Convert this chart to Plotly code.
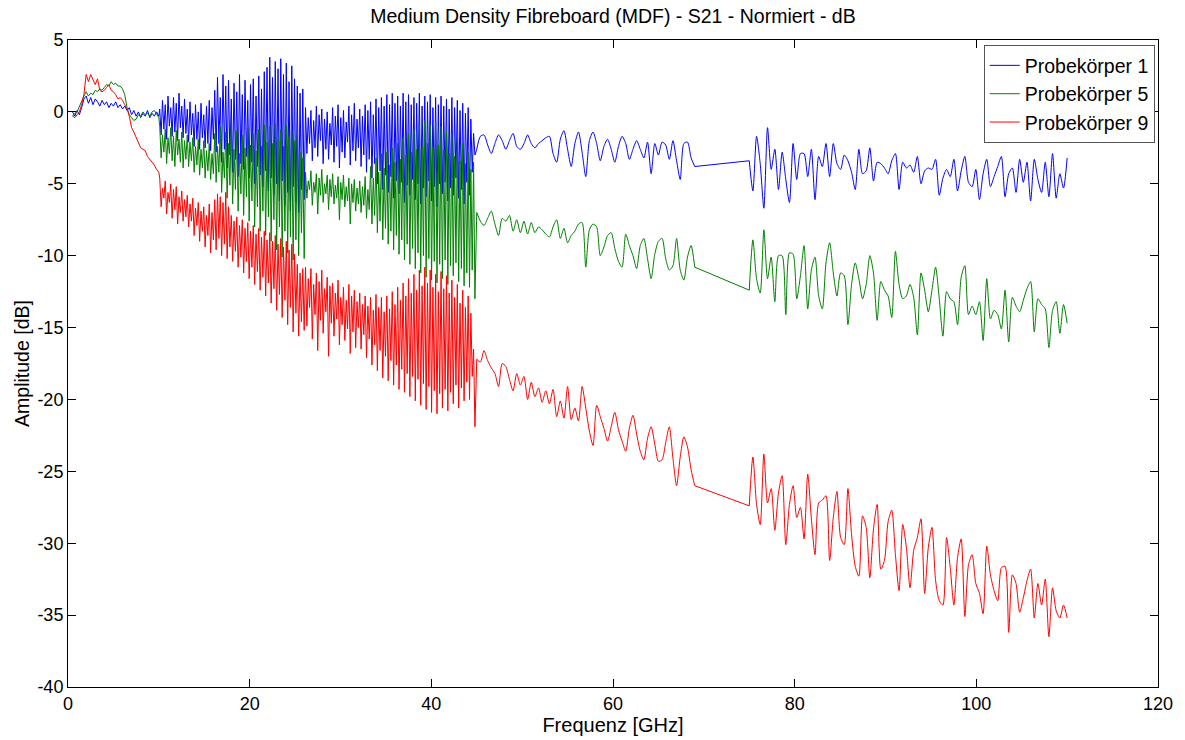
import numpy as np
import plotly.graph_objects as go

# Frequency bands of the sweep [GHz]: start / stop of each measured block
BAND_START = [0.5, 10.1, 26.15, 45.0, 75.0]
BAND_STOP = [10.0, 26.0, 44.8, 69.0, 110.0]

# ---------------- Probekörper 1 ----------------
p1_band1 = [0.0, -0.3, 0.1, -0.2, 0.3, 0.9, 1.1, 0.6, 1.0, 0.5, 0.9, 0.7, 0.4, 0.8, 0.5, 0.7,
            0.3, 0.6, 0.4, 0.7, 0.3, 0.5, 0.2, 0.4, 0.1, 0.3, -0.2, 0.1, -0.3, 0.0, -0.4, -0.1,
            -0.3, 0.1, -0.4, -0.1, -0.3, 0.0, -0.3]
p1_band2 = [0.2, -1.6, 0.8, -1.2, 0.5, -1.9, 1.1, -1.0, 0.3, -1.7, 1.0, -1.4, 0.6, -2.0, 1.3, -1.1, 0.4, -1.8, 0.9, -1.5,
            0.2, -2.1, 0.7, -1.6, -0.1, -2.4, 0.5, -1.9, 0.0, -2.6, 0.6, -1.8, -0.2, -2.5, 0.4, -2.2, 0.8, -2.7, 0.3, -1.9,
            1.5, -2.8, 2.4, -2.2, 1.0, -3.5, 2.6, -2.6, 1.8, -3.9, 2.2, -3.0, 0.9, -4.2, 2.0, -3.3, 1.4, -4.5, 2.6, -3.6,
            1.2, -4.0, 2.2, -3.1, 0.8, -4.6, 1.9, -3.5, 2.3, -5.0, 1.1, -3.8, 2.5, -4.4, 1.6, -5.2, 2.8, -4.1, 3.1, -5.5,
            3.8, -4.6, 2.4, -5.8, 3.5, -5.0, 3.0, -6.2, 3.7, -4.8, 2.6, -6.5, 3.4, -5.6, 2.1, -6.9, 3.2, -5.2, 2.3, -6.3,
            1.8, -7.0, 1.3, -5.4, 1.6, -6.1]
p1_band3 = [0.3, -2.9, -0.4, -2.2, 0.1, -3.4, -0.6, -2.5, 0.4, -3.1, -0.2, -2.0, 0.2, -3.6, -0.5, -2.6, 0.0, -3.3, -0.8, -2.3,
            0.3, -3.5, -0.3, -2.4, 0.5, -3.9, -0.4, -2.8, 0.1, -3.2, -0.7, -2.1, 0.4, -3.7, -0.2, -2.7, 0.6, -3.4, -0.5, -2.5,
            0.2, -3.8, -0.3, -3.0, 0.5, -4.2, 0.1, -3.3, 0.7, -4.6, -0.2, -3.6, 0.9, -5.0, 0.3, -4.1, 1.0, -5.4, 0.4, -4.4,
            1.2, -5.6, 0.5, -4.5, 1.3, -6.0, 0.6, -4.8, 1.1, -5.7, 0.4, -4.9, 1.3, -6.3, 0.7, -5.1, 1.2, -5.8, 0.5, -4.7,
            1.0, -6.1, 0.6, -5.0, 1.3, -6.4, 0.4, -5.3, 1.1, -5.9, 0.7, -4.8, 1.2, -6.2, 0.3, -5.2, 1.0, -6.6, 0.5, -5.0,
            1.1, -5.7, 0.4, -4.9, 0.9, -6.2, 0.2, -5.3, 1.0, -5.8, 0.3, -4.6, 0.8, -6.0, 0.1, -5.4, 0.6, -6.4, -0.1, -4.9,
            0.3, -5.8, -0.5, -4.2, -1.5, -3.0]
p1_band4 = [-2.6, -1.7, -1.6, -2.3, -2.9, -2.2, -1.6, -2.0, -2.6, -2.0, -1.5, -2.4, -2.6, -2.2, -1.6, -2.2,
            -2.5, -2.2, -2.0, -1.8, -1.7, -2.9, -3.5, -1.9, -1.3, -2.6, -3.8, -2.2, -1.4, -2.8, -4.5, -2.0,
            -1.4, -2.2, -3.4, -2.4, -1.9, -2.6, -3.5, -2.4, -1.7, -2.2, -3.3, -2.6, -2.0, -2.6, -3.2, -2.1,
            -4.3, -2.2, -3.0, -2.1, -2.3, -3.3, -2.0, -3.4, -4.7, -2.2, -2.1, -3.2, -3.8]
p1_band5 = [-3.4, -5.5, -1.7, -3.6, -6.7, -1.1, -4.0, -2.6, -5.4, -2.8, -4.7, -6.3, -2.2, -4.7, -2.9, -2.9,
            -4.5, -2.6, -6.1, -3.1, -3.8, -2.2, -4.5, -2.2, -3.6, -4.0, -3.0, -3.4, -4.2, -5.4, -2.6, -4.3,
            -4.1, -2.5, -4.8, -3.5, -3.6, -3.9, -4.3, -3.4, -2.9, -5.4, -3.5, -3.9, -3.7, -4.2, -3.1, -5.0,
            -4.1, -3.9, -4.0, -3.3, -5.8, -4.6, -4.0, -4.5, -3.3, -5.5, -4.1, -3.1, -4.9, -5.2, -4.0, -6.1,
            -4.3, -3.3, -5.2, -4.5, -3.8, -3.1, -5.9, -4.3, -3.9, -5.6, -3.3, -4.9, -3.5, -6.2, -3.3, -4.7,
            -5.6, -3.5, -5.9, -2.9, -6.0, -4.3, -5.3, -3.2]

# ---------------- Probekörper 5 ----------------
p5_band1 = [-0.3, -0.1, 0.0, 0.4, 0.8, 1.1, 1.4, 1.1, 1.3, 1.2, 1.5, 1.4, 1.6, 1.5, 1.7, 1.9,
            1.8, 2.1, 1.9, 2.0, 1.8, 1.8, 1.6, 1.2, 0.3, -0.2, -0.4, -0.6, -0.5, -0.2, -0.3, 0.0,
            -0.2, -0.1, -0.3, 0.0, 0.1, -0.2, -0.4]
p5_band2 = [-1.0, -3.2, -1.6, -2.8, -1.2, -3.6, -1.8, -2.9, -1.1, -3.4, -1.7, -3.8, -1.3, -3.0, -1.9, -3.5, -1.4, -3.9, -2.0, -3.3,
            -1.6, -3.8, -2.1, -3.4, -1.8, -4.2, -2.4, -3.7, -1.9, -4.4, -2.6, -3.9, -2.0, -4.6, -2.7, -4.1, -2.2, -4.7, -2.9, -4.3,
            -1.5, -4.9, -2.4, -4.2, -1.0, -5.6, -2.8, -4.6, -1.4, -6.0, -2.2, -5.1, -0.9, -6.4, -2.6, -5.4, -1.3, -6.9, -2.9, -5.7,
            -1.6, -7.2, -2.5, -5.9, -1.1, -7.6, -2.3, -6.2, -1.5, -8.0, -2.7, -6.6, -1.2, -8.3, -2.4, -6.9, -0.9, -8.6, -2.1, -7.3,
            -1.0, -9.0, -2.2, -7.5, -0.8, -9.6, -1.9, -8.0, -1.2, -10.1, -2.4, -8.3, -0.9, -9.8, -1.7, -8.7, -1.3, -10.3, -2.0, -8.9,
            -1.6, -10.0, -2.8, -8.4, -3.2, -10.2]
p5_band3 = [-4.2, -6.0, -4.8, -5.4, -4.1, -6.5, -4.9, -5.6, -4.3, -7.1, -4.6, -5.8, -4.0, -6.3, -5.0, -5.7, -4.4, -6.8, -4.7, -5.9,
            -4.3, -6.4, -5.1, -6.0, -4.5, -7.5, -4.9, -6.1, -4.4, -6.6, -5.2, -6.2, -4.6, -7.8, -5.0, -6.3, -4.7, -6.9, -5.3, -6.4,
            -4.8, -7.0, -5.2, -6.5, -4.5, -7.4, -5.4, -6.8, -3.8, -7.8, -4.6, -7.2, -3.2, -8.4, -4.2, -7.6, -2.9, -8.9, -3.9, -8.1,
            -2.8, -9.2, -3.7, -8.3, -2.5, -9.6, -3.5, -8.6, -2.2, -9.9, -3.3, -8.9, -1.8, -10.3, -3.0, -9.2, -1.5, -10.6, -2.8, -9.5,
            -1.2, -10.9, -2.6, -9.8, -0.9, -11.2, -2.4, -10.0, -0.6, -11.5, -2.2, -10.2, -0.9, -11.7, -2.5, -10.4, -0.7, -11.9, -2.3, -10.6,
            -1.0, -11.6, -2.6, -10.3, -1.3, -12.0, -2.9, -10.7, -1.6, -11.4, -3.1, -10.5, -1.9, -11.8, -3.4, -10.9, -2.2, -12.1, -3.6, -11.2,
            -2.8, -12.2, -4.0, -11.0, -3.5, -13.0]
p5_band4 = [-7.0, -7.6, -7.9, -7.4, -6.9, -7.8, -8.6, -7.4, -7.6, -7.2, -8.3, -7.5, -8.4, -7.6, -8.5, -7.7,
            -8.4, -8.0, -8.2, -8.5, -8.7, -8.0, -7.5, -8.8, -8.1, -9.1, -8.6, -8.3, -7.8, -7.7, -10.8, -8.2,
            -7.8, -8.0, -10.0, -9.4, -8.6, -8.4, -9.5, -10.4, -10.8, -8.5, -9.3, -10.0, -10.9, -9.3, -8.8, -10.2,
            -11.6, -9.9, -9.0, -8.8, -10.2, -11.0, -10.7, -8.8, -11.0, -11.7, -10.1, -9.3, -10.8]
p5_band5 = [-12.4, -8.9, -11.6, -12.6, -8.2, -11.6, -10.1, -13.2, -10.0, -10.0, -14.1, -9.8, -9.9, -13.0, -11.4, -9.3,
            -13.7, -11.0, -10.1, -12.8, -13.7, -10.5, -9.1, -11.2, -12.8, -11.2, -11.4, -14.8, -12.0, -10.5, -11.6, -13.0,
            -12.0, -10.0, -11.2, -14.5, -11.8, -12.4, -12.8, -14.3, -9.7, -12.0, -13.0, -12.8, -12.0, -12.9, -15.5, -11.2,
            -12.4, -13.9, -12.4, -10.8, -13.0, -15.6, -12.5, -13.0, -13.2, -14.8, -11.5, -10.7, -14.1, -13.5, -14.1, -13.2,
            -15.9, -11.6, -14.4, -13.8, -14.1, -15.1, -12.4, -16.0, -12.9, -13.5, -13.9, -13.1, -12.3, -11.8, -15.3, -13.0,
            -13.4, -13.7, -16.4, -13.8, -13.2, -15.4, -13.4, -14.7]

# ---------------- Probekörper 9 ----------------
p9_band1 = [-0.3, -0.4, -0.2, 0.0, 0.5, 1.2, 2.6, 2.1, 2.6, 2.2, 1.9, 2.3, 1.5, 1.4, 1.5, 1.7,
            1.9, 1.5, 1.4, 1.2, 0.9, 1.0, 0.8, 0.5, 0.2, -0.3, -1.1, -1.4, -1.8, -2.2, -2.5, -2.6,
            -2.7, -3.1, -3.3, -3.5, -3.7, -4.0, -4.2]
p9_band2 = [-4.6, -6.6, -5.3, -6.0, -4.8, -7.1, -5.6, -6.3, -5.0, -7.4, -5.4, -6.8, -5.2, -7.8, -5.9, -7.0, -5.5, -7.6, -6.1, -7.3,
            -5.8, -8.0, -6.4, -7.6, -6.0, -8.6, -6.7, -7.9, -6.3, -9.0, -6.9, -8.3, -6.6, -9.4, -7.2, -8.6, -6.4, -9.8, -7.0, -8.9,
            -6.1, -9.6, -5.7, -8.8, -5.9, -10.0, -6.3, -9.2, -5.6, -10.2, -6.6, -9.4, -7.2, -10.4, -7.6, -9.7, -7.3, -10.8, -7.9, -10.1,
            -7.5, -11.2, -8.1, -10.4, -7.7, -11.6, -8.3, -10.8, -7.9, -12.0, -8.5, -11.1, -8.1, -12.4, -8.7, -11.5, -8.3, -12.8, -8.9, -11.9,
            -8.4, -13.3, -9.0, -12.3, -8.6, -13.8, -9.2, -12.7, -8.8, -14.3, -9.4, -13.1, -9.0, -14.8, -9.6, -13.6, -9.2, -15.3, -9.9, -14.0,
            -10.6, -15.6, -11.2, -14.6, -10.9, -15.2]
p9_band3 = [-10.8, -14.9, -11.6, -13.6, -10.9, -15.8, -12.0, -14.1, -11.2, -16.6, -11.8, -14.5, -11.0, -15.4, -12.3, -13.9, -11.5, -17.0, -12.1, -14.7,
            -11.9, -15.6, -12.6, -14.4, -11.7, -16.2, -12.9, -14.8, -12.2, -15.9, -13.1, -15.1, -12.0, -16.8, -12.8, -15.3, -12.4, -16.4, -13.2, -15.0,
            -12.6, -16.5, -13.4, -15.5, -12.8, -17.1, -13.5, -15.8, -12.9, -17.6, -13.8, -16.2, -12.7, -18.0, -13.6, -16.6, -12.9, -18.5, -13.9, -17.0,
            -12.8, -18.7, -13.7, -17.3, -12.5, -19.0, -13.4, -17.6, -12.2, -19.3, -13.1, -17.9, -11.9, -19.5, -12.8, -18.2, -11.6, -19.8, -12.6, -18.4,
            -11.3, -20.1, -12.4, -18.6, -11.0, -20.4, -12.1, -18.9, -10.8, -20.7, -11.9, -19.1, -11.0, -20.9, -12.2, -19.4, -11.3, -21.0, -12.5, -19.6,
            -11.1, -20.6, -12.3, -19.3, -11.4, -20.8, -12.6, -19.5, -11.7, -20.3, -12.9, -19.0, -12.0, -20.6, -13.3, -19.2, -12.4, -20.1, -13.6, -18.8,
            -12.8, -20.0, -14.0, -18.4, -16.5, -21.9]
p9_band4 = [-17.2, -17.4, -16.6, -17.3, -17.8, -18.2, -19.1, -17.5, -17.7, -18.6, -19.4, -18.2, -19.0, -18.4, -20.0, -18.8,
            -19.8, -19.2, -20.2, -19.4, -20.3, -19.3, -21.2, -20.1, -21.3, -19.1, -21.4, -20.6, -21.5, -19.1, -20.6, -22.2,
            -23.2, -20.4, -21.2, -22.0, -22.9, -21.9, -20.9, -22.1, -22.9, -23.6, -22.0, -21.1, -22.4, -23.6, -24.2, -22.7,
            -21.9, -23.1, -24.3, -24.2, -23.0, -21.9, -24.1, -26.0, -24.0, -22.6, -23.3, -24.9, -26.0]
p9_band5 = [-27.4, -24.0, -27.3, -28.7, -23.8, -27.2, -26.2, -29.1, -26.5, -25.3, -30.1, -27.3, -26.0, -28.2, -27.5, -29.7,
            -25.2, -28.3, -30.8, -27.2, -27.0, -26.7, -31.2, -28.2, -26.4, -29.6, -30.1, -26.2, -29.4, -31.6, -32.3, -28.1,
            -28.9, -32.4, -29.0, -27.3, -31.8, -31.2, -28.5, -27.7, -30.8, -33.3, -28.7, -30.3, -33.1, -30.5, -29.6, -28.3,
            -33.5, -30.3, -28.9, -32.6, -34.0, -34.3, -29.6, -31.7, -34.3, -31.0, -29.7, -35.1, -31.5, -30.8, -32.8, -33.5,
            -34.9, -30.2, -32.2, -33.3, -34.0, -31.7, -31.6, -36.2, -32.2, -32.8, -34.8, -33.8, -32.6, -31.8, -35.2, -32.8,
            -34.3, -32.5, -36.5, -33.1, -34.7, -35.2, -34.3, -35.2]

SERIES_NAMES = ["Probekörper 1", "Probekörper 5", "Probekörper 9"]
SERIES_BANDS = [
    [p1_band1, p1_band2, p1_band3, p1_band4, p1_band5],
    [p5_band1, p5_band2, p5_band3, p5_band4, p5_band5],
    [p9_band1, p9_band2, p9_band3, p9_band4, p9_band5],
]
SERIES_COLORS = ["#0000ff", "#008000", "#ff0000"]

X_TICKS = [0, 20, 40, 60, 80, 100, 120]
Y_TICKS = [5, 0, -5, -10, -15, -20, -25, -30, -35, -40]

FONT = "Liberation Sans, Arial, Helvetica, sans-serif"


def band_axis(bands):
    """Frequency samples for each measured block, evenly spaced in the block."""
    freqs, vals = [], []
    for start, stop, values in zip(BAND_START, BAND_STOP, bands):
        freqs.append(np.linspace(start, stop, len(values)).tolist())
        vals.append(list(values))
    return freqs, vals


fig = go.Figure()
for name, bands, color in zip(SERIES_NAMES, SERIES_BANDS, SERIES_COLORS):
    f, v = band_axis(bands)
    # blocks 1-3 (dense) plus the link into block 4: straight segments
    f_dense = f[0] + f[1] + f[2] + [f[3][0]]
    v_dense = v[0] + v[1] + v[2] + [v[3][0]]
    pieces = [
        (f_dense, v_dense, "linear", True),
        (f[3], v[3], "spline", False),
        # unmeasured 69-75 GHz gap: straight connecting line
        ([f[3][-1], f[4][0]], [v[3][-1], v[4][0]], "linear", False),
        (f[4], v[4], "spline", False),
    ]
    for xs, ys, shape, show in pieces:
        line = dict(color=color, width=1, shape=shape)
        if shape == "spline":
            line["smoothing"] = 0.7
        fig.add_trace(go.Scatter(
            x=xs, y=ys, mode="lines", name=name, legendgroup=name,
            showlegend=show, line=line,
        ))

axis_common = dict(
    showline=True, linecolor="#000000", linewidth=1, mirror="allticks",
    ticks="inside", ticklen=8, tickwidth=1, tickcolor="#000000",
    showgrid=False, zeroline=False,
    tickfont=dict(family=FONT, size=18, color="#000000"),
)

fig.update_layout(
    width=1185, height=740,
    margin=dict(l=68, r=25, t=40, b=50),
    paper_bgcolor="white", plot_bgcolor="white",
    font=dict(family=FONT, size=18, color="#000000"),
    title=dict(
        text="Medium Density Fibreboard (MDF) - S21 - Normiert - dB",
        x=0.5, xref="paper", xanchor="center",
        y=1 - 16 / 740, yanchor="middle",
        font=dict(family=FONT, size=19.5, color="#000000"),
    ),
    xaxis=dict(
        range=[0, 120], tickvals=X_TICKS, ticktext=[str(t) for t in X_TICKS],
        title=dict(text="Frequenz [GHz]", standoff=0, font=dict(family=FONT, size=20)),
        **axis_common,
    ),
    yaxis=dict(
        range=[-40, 5], tickvals=Y_TICKS, ticktext=[str(t) for t in Y_TICKS],
        title=dict(text="Amplitude [dB]", standoff=2, font=dict(family=FONT, size=19.5)),
        **axis_common,
    ),
    legend=dict(
        x=0.997, y=0.992, xanchor="right", yanchor="top",
        bgcolor="white", bordercolor="#555555", borderwidth=1,
        font=dict(family=FONT, size=19.5, color="#000000"),
        tracegroupgap=0, itemwidth=30,
    ),
    showlegend=True,
)

fig.write_html("out.html")
